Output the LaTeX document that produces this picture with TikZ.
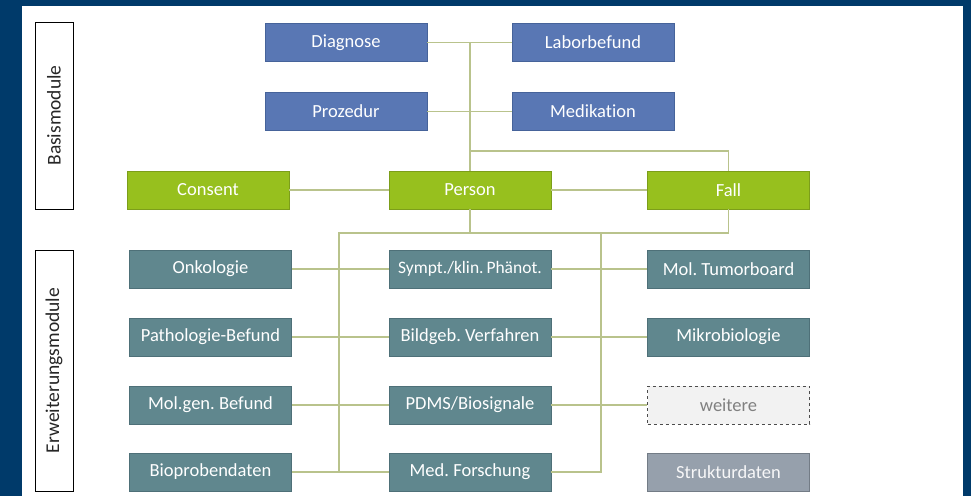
\documentclass[tikz,border=0pt]{standalone}
\usepackage{fontspec}
\setmainfont{Carlito}[Ligatures=NoCommon]
\frenchspacing
\begin{document}
\begin{tikzpicture}[x=1pt,y=-1pt,
  box/.style={rectangle, minimum width=162pt, minimum height=38pt, inner sep=0pt,
    line width=0.9pt, text=white, font=\fontsize{18.5}{20}\selectfont},
  basis/.style={box, fill=basisblue, draw=basisblueline},
  kern/.style={box, fill=kerngreen, draw=kerngreenline},
  erw/.style={box, fill=erwteal, draw=erwtealline},
  struct/.style={box, fill=structgrey, draw=structgreyline, text=white!92!structgrey},
  more/.style={box, fill=black!5, draw=black!70, dashed, line width=0.8pt, text=black!50},
  label/.style={rectangle, draw=black, line width=1pt, fill=white, minimum width=38pt,
    inner sep=0pt, text=black!85, font=\fontsize{19.5}{21}\selectfont},
  link/.style={draw=linkolive, line width=1.3pt}
]
\definecolor{navy}{HTML}{003A6A}
\definecolor{basisblue}{HTML}{5977B4}
\definecolor{basisblueline}{HTML}{46639A}
\definecolor{kerngreen}{HTML}{97C01E}
\definecolor{kerngreenline}{HTML}{7C9E1A}
\definecolor{erwteal}{HTML}{60878E}
\definecolor{erwtealline}{HTML}{4E7078}
\definecolor{structgrey}{HTML}{96A0AC}
\definecolor{structgreyline}{HTML}{737C86}
\definecolor{linkolive}{HTML}{B9C38C}

% frame and page
\useasboundingbox (0,0) rectangle (971,496);
\fill[navy] (0,0) rectangle (971,496);
\fill[white] (22,6) rectangle (963,496);

% section labels
\node[label, minimum height=187pt] (lblBasis) at (54,115.5) {\rotatebox{90}{Basismodule}};
\node[label, minimum height=241pt] (lblErw) at (54,370.5) {\rotatebox{90}{Erweiterungsmodule}};

% base modules
\node[basis] (diag) at (346,42.5) {Diagnose};
\node[basis] (labor) at (593,42.5) {Laborbefund};
\node[basis] (proz) at (346,111.5) {Prozedur};
\node[basis] (medi) at (593,111.5) {Medikation};
\node[kern] (consent) at (208,190) {Consent};
\node[kern] (person) at (470,190) {Person};
\node[kern] (fall) at (728.5,190) {Fall};

% extension modules
\node[erw] (onko) at (210.5,269) {Onkologie};
\node[erw] (symp) at (470,269) {\fontsize{17.5}{19}\selectfont Sympt./klin.\,Phänot.};
\node[erw] (tumor) at (728.5,269) {Mol. Tumorboard};
\node[erw] (patho) at (210.5,337) {Pathologie-Befund};
\node[erw] (bild) at (470,337) {Bildgeb. Verfahren};
\node[erw] (mikro) at (728.5,337) {Mikrobiologie};
\node[erw] (molgen) at (210.5,405) {Mol.gen. Befund};
\node[erw] (pdms) at (470,405) {PDMS/Biosignale};
\node[more] (weitere) at (728.5,405) {weitere};
\node[erw] (bioprob) at (210.5,472) {Bioprobendaten};
\node[erw] (forsch) at (470,472) {Med. Forschung};
\node[struct] (struktur) at (728.5,472) {Strukturdaten};

% bus positions
\coordinate (busTop) at (0,151);
\coordinate (busBot) at (0,233);
\coordinate (railL) at (339,0);
\coordinate (railR) at (601,0);

% connectors of the base modules
\path[link] (diag.east) -- (labor.west);
\path[link] (proz.east) -- (medi.west);
\path[link] (person.north) -- (person.north |- diag.east);
\path[link] (person.north |- busTop) -| (fall.north);
\path[link] (consent.east) -- (person.west);
\path[link] (person.east) -- (fall.west);

% connectors of the extension modules
\path[link] (person.south) -- (person.south |- busBot);
\path[link] (railL |- bioprob.east) -- (railL |- busBot) -- (fall.south |- busBot) -- (fall.south);
\path[link] (forsch.east) -| (railR |- busBot);
\path[link] (onko.east) -- (symp.west);
\path[link] (symp.east) -- (tumor.west);
\path[link] (patho.east) -- (bild.west);
\path[link] (bild.east) -- (mikro.west);
\path[link] (molgen.east) -- (pdms.west);
\path[link] (pdms.east) -- (weitere.west);
\path[link] (bioprob.east) -- (forsch.west);
\end{tikzpicture}
\end{document}
